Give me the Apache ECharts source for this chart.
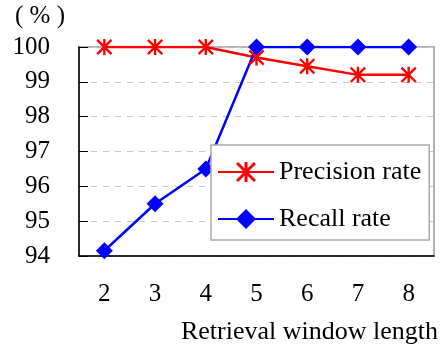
<!DOCTYPE html>
<html>
<head>
<meta charset="utf-8">
<script src="https://cdn.jsdelivr.net/npm/echarts@6/dist/echarts.min.js"></script>
<style>
  html, body { margin: 0; padding: 0; background: #fff; }
  #chart { width: 444px; height: 346px; }
</style>
</head>
<body>
<div id="chart"></div>
<script>
var windowLengths = ['2', '3', '4', '5', '6', '7', '8'];
var precisionRate = [100, 100, 100, 99.7, 99.45, 99.2, 99.2];
var recallRate = [94.15, 95.5, 96.5, 100, 100, 100, 100];

// asterisk marker: vertical bar plus two diagonals
var starPath = 'path://M8.5,0 L11.5,0 L11.5,20 L8.5,20 Z ' +
    'M2.1,0 L20,17.9 L17.9,20 L0,2.1 Z ' +
    'M17.9,0 L20,2.1 L2.1,20 L0,17.9 Z';

var font = 'Liberation Serif';

var option = {
    animation: false,
    backgroundColor: '#fff',
    textStyle: { fontFamily: font },
    grid: {
        left: 79, right: 10, top: 47, bottom: 90,
        show: true, borderColor: '#999', borderWidth: 1.5
    },
    legend: {
        orient: 'vertical',
        left: 211, top: 145,
        backgroundColor: '#fff',
        borderColor: '#aaa', borderWidth: 1.5,
        padding: [14, 8, 8, 6],
        itemGap: 21,
        itemWidth: 56, itemHeight: 25,
        textStyle: { fontFamily: font, fontSize: 26, color: '#000' },
        data: ['Precision rate', 'Recall rate']
    },
    xAxis: {
        type: 'category',
        data: windowLengths,
        name: 'Retrieval window length',
        nameLocation: 'end',
        nameGap: 4,
        nameTextStyle: {
            fontFamily: font, fontSize: 26, color: '#000',
            align: 'right', verticalAlign: 'top', padding: [63, 0, 0, 0]
        },
        axisLine: { lineStyle: { color: '#000', width: 1.5 } },
        axisTick: { inside: true, length: 8, lineStyle: { color: '#000' } },
        axisLabel: { margin: 26, fontFamily: font, fontSize: 25, color: '#000' }
    },
    yAxis: {
        type: 'value',
        min: 94, max: 100, interval: 1,
        name: '( % )',
        nameGap: 18,
        nameTextStyle: {
            fontFamily: font, fontSize: 25, color: '#000',
            align: 'right', padding: [0, 14, 0, 0]
        },
        axisLine: { show: true, lineStyle: { color: '#000', width: 1.5 } },
        axisTick: { show: true, inside: true, length: 9, lineStyle: { color: '#000' } },
        axisLabel: { margin: 29, fontFamily: font, fontSize: 25, color: '#000' },
        splitLine: { lineStyle: { color: '#c8c8c8', type: [6, 6] } }
    },
    series: [
        {
            name: 'Precision rate',
            type: 'line',
            data: precisionRate,
            symbol: starPath,
            symbolSize: 16,
            color: '#ff0000',
            lineStyle: { color: '#ff0000', width: 2.5 },
            itemStyle: { color: '#ff0000' }
        },
        {
            name: 'Recall rate',
            type: 'line',
            data: recallRate,
            symbol: 'diamond',
            symbolSize: 17,
            color: '#0000ff',
            lineStyle: { color: '#0000ff', width: 2.5 },
            itemStyle: { color: '#0000ff' }
        }
    ]
};

echarts.init(document.getElementById('chart')).setOption(option);
</script>
</body>
</html>
